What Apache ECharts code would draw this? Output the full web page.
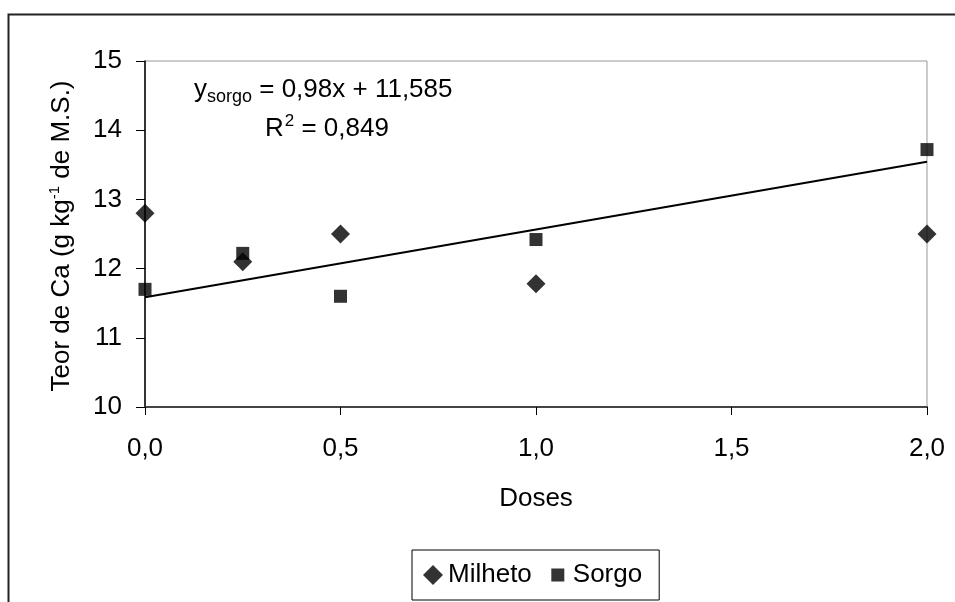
<!DOCTYPE html>
<html>
<head>
<meta charset="utf-8">
<script src="https://cdn.jsdelivr.net/npm/echarts@6/dist/echarts.min.js"></script>
<style>html,body{margin:0;padding:0;background:#fff;}#c{width:955px;height:602px;}</style>
</head>
<body>
<div id="c"></div>
<script>
const doses = [0, 0.25, 0.5, 1, 2];
const milheto = [12.8, 12.1, 12.5, 11.78, 12.5];
const sorgo = [11.7, 12.22, 11.6, 12.42, 13.72];
const trendSlope = 0.98;
const trendIntercept = 11.585;
const trendX = [0, 2];

const font = 'Liberation Sans, Arial, sans-serif';
const FS = 26;
const chart = echarts.init(document.getElementById('c'));
chart.setOption({
  animation: false,
  backgroundColor: '#fff',
  grid: { left: 145, right: 28, top: 61, bottom: 195, show: true, borderColor: '#999', borderWidth: 1, backgroundColor: 'transparent' },
  graphic: [
    { type: 'polyline', shape: { points: [[8.5, 610], [8.5, 14.5], [960, 14.5]] }, style: { stroke: '#222', lineWidth: 2, fill: null }, z: 0 },
    { type: 'text', left: 194, top: 74, style: {
        text: '{y|y}{s|sorgo}{t| = 0,98x + 11,585}',
        rich: { y: { fontFamily: font, fontSize: FS, fill: '#000', lineHeight: 30 }, s: { fontFamily: font, fontSize: 18, fill: '#000', lineHeight: 30, padding: [14, 0, 0, 0] }, t: { fontFamily: font, fontSize: FS, fill: '#000', lineHeight: 30 } }
      } },
    { type: 'text', left: 265, top: 113, style: {
        text: '{t|R}{s|2}{t| = 0,849}',
        rich: { t: { fontFamily: font, fontSize: FS, fill: '#000', lineHeight: 30 }, s: { fontFamily: font, fontSize: 17, fill: '#000', lineHeight: 30, padding: [0, 0, 14, 1] } }
      } },
    { type: 'text', x: 62, y: 236, rotation: Math.PI / 2, style: {
        text: '{t|Teor de Ca (g kg}{s|-1}{t| de M.S.)}', align: 'center', verticalAlign: 'middle',
        rich: { t: { fontFamily: font, fontSize: FS, fill: '#000', lineHeight: 30 }, s: { fontFamily: font, fontSize: 15, fill: '#000', lineHeight: 30, padding: [0, 0, 14, 0] } }
      } }
  ],
  legend: {
    data: [
      { name: 'Milheto', icon: 'diamond' },
      { name: 'Sorgo', icon: 'path://M0,0 L0.01,0 L0,0.01 Z M20,20 L19.99,20 L20,19.99 Z M3.5,3.5 L16.5,3.5 L16.5,16.5 L3.5,16.5 Z' }
    ],
    left: 412, top: 550,
    itemWidth: 20, itemHeight: 20, itemGap: 16,
    padding: [12, 17, 12, 11],
    borderColor: '#000', borderWidth: 1,
    textStyle: { fontFamily: font, fontSize: FS, color: '#000' }
  },
  xAxis: {
    type: 'value', min: 0, max: 2, interval: 0.5,
    name: 'Doses', nameLocation: 'middle', nameGap: 79,
    nameTextStyle: { fontFamily: font, fontSize: FS, color: '#000' },
    axisLine: { show: true, lineStyle: { color: '#444', width: 2 } },
    axisTick: { show: true, length: 8, lineStyle: { color: '#000' } },
    axisLabel: { fontFamily: font, fontSize: FS, color: '#000', margin: 29, formatter: v => v.toFixed(1).replace('.', ',') },
    splitLine: { show: false }
  },
  yAxis: {
    type: 'value', min: 10, max: 15, interval: 1,
    axisLine: { show: true, lineStyle: { color: '#000', width: 1.5 } },
    axisTick: { show: true, length: 9, lineStyle: { color: '#000' } },
    axisLabel: { fontFamily: font, fontSize: FS, color: '#000', margin: 23 },
    splitLine: { show: false }
  },
  series: [
    { name: 'Milheto', type: 'scatter', symbol: 'diamond', symbolSize: [19, 19], itemStyle: { color: '#000' }, data: doses.map((d, i) => [d, milheto[i]]), z: 5 },
    { name: 'Sorgo', type: 'scatter', symbol: 'rect', symbolSize: 13, itemStyle: { color: '#000' }, data: doses.map((d, i) => [d, sorgo[i]]), z: 5 },
    { name: 'trend', type: 'line', symbol: 'none', lineStyle: { color: '#000', width: 2 }, data: trendX.map(x => [x, trendIntercept + trendSlope * x]), z: 4 }
  ]
});
</script>
</body>
</html>
